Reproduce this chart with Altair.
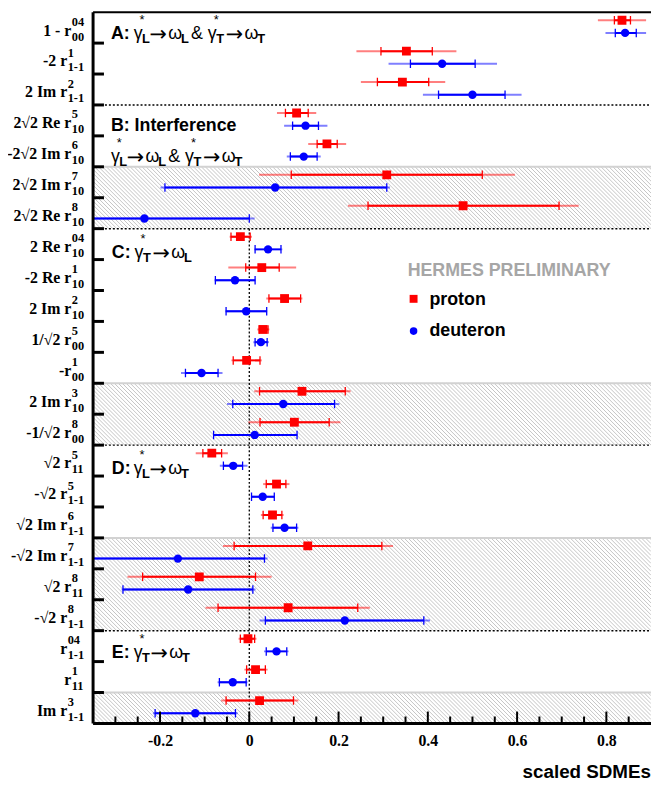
import altair as alt
import pandas as pd

# ------------------------------------------------------------------ data
label_main = ["1 - r", "-2 r", "2 Im r", "2√2 Re r", "-2√2 Im r", "2√2 Im r", "2√2 Re r",
              "2 Re r", "-2 Re r", "2 Im r", "1/√2 r", "-r", "2 Im r", "-1/√2 r",
              "√2 r", "-√2 r", "√2 Im r", "-√2 Im r", "√2 r", "-√2 r",
              "r", "r", "Im r"]
label_sup = ["04", "1", "2", "5", "6", "7", "8", "04", "1", "2", "5", "1", "3", "8",
             "5", "5", "6", "7", "8", "8", "04", "1", "3"]
label_sub = ["00", "1-1", "1-1", "10", "10", "10", "10", "10", "10", "10", "00", "00", "10", "00",
             "11", "1-1", "1-1", "1-1", "11", "1-1", "1-1", "11", "1-1"]

p_val = [0.835, 0.352, 0.343, 0.106, 0.174, 0.308, 0.479, -0.020, 0.028, 0.079, 0.031, -0.006,
         0.118, 0.101, -0.084, 0.061, 0.052, 0.131, -0.112, 0.087, -0.003, 0.014, 0.023]
p_stat_lo = [0.818, 0.295, 0.287, 0.081, 0.152, 0.094, 0.266, -0.041, -0.008, 0.044, 0.022, -0.036,
             0.023, 0.024, -0.104, 0.038, 0.031, -0.034, -0.239, -0.070, -0.020, -0.006, -0.052]
p_stat_hi = [0.854, 0.410, 0.402, 0.132, 0.197, 0.522, 0.694, 0.002, 0.067, 0.115, 0.042, 0.024,
             0.215, 0.179, -0.062, 0.082, 0.073, 0.297, 0.014, 0.243, 0.012, 0.036, 0.099]
p_tot_lo = [0.781, 0.240, 0.250, 0.062, 0.132, 0.022, 0.221, -0.044, -0.047, 0.038, 0.018, -0.040,
            0.011, -0.002, -0.120, 0.031, 0.026, -0.059, -0.273, -0.098, -0.024, -0.011, -0.063]
p_tot_hi = [0.889, 0.464, 0.439, 0.150, 0.217, 0.595, 0.738, 0.006, 0.105, 0.119, 0.045, 0.028,
            0.227, 0.204, -0.048, 0.090, 0.077, 0.322, 0.050, 0.270, 0.016, 0.041, 0.110]

d_val = [0.842, 0.432, 0.500, 0.126, 0.122, 0.058, -0.235, 0.042, -0.032, -0.007, 0.026, -0.107,
         0.076, 0.012, -0.036, 0.030, 0.079, -0.160, -0.137, 0.214, 0.061, -0.037, -0.121]
d_stat_lo = [0.820, 0.361, 0.424, 0.097, 0.092, -0.189, -0.470, 0.013, -0.076, -0.052, 0.013, -0.143,
             -0.037, -0.080, -0.058, 0.005, 0.053, -0.354, -0.283, 0.036, 0.038, -0.067, -0.211]
d_stat_hi = [0.867, 0.506, 0.573, 0.155, 0.152, 0.308, 0.000, 0.071, 0.013, 0.039, 0.040, -0.070,
             0.191, 0.107, -0.015, 0.056, 0.106, 0.034, 0.008, 0.391, 0.084, -0.007, -0.031]
d_tot_lo = [0.798, 0.312, 0.389, 0.078, 0.084, -0.199, -0.480, 0.011, -0.078, -0.054, 0.009, -0.153,
            -0.050, -0.081, -0.066, 0.004, 0.048, -0.360, -0.286, 0.023, 0.033, -0.071, -0.216]
d_tot_hi = [0.889, 0.555, 0.610, 0.175, 0.160, 0.315, 0.012, 0.074, 0.014, 0.040, 0.044, -0.060,
            0.202, 0.108, -0.004, 0.057, 0.110, 0.041, 0.014, 0.405, 0.088, -0.004, -0.026]

shaded_bands = [(5, 7), (12, 14), (17, 20), (22, 23)]
section_breaks = [3, 7, 14, 20]
x_labels = [-0.2, 0, 0.2, 0.4, 0.6, 0.8]
x_minor = [-0.3, -0.25, -0.15, -0.1, -0.05, 0.05, 0.1, 0.15, 0.25, 0.3, 0.35,
           0.45, 0.5, 0.55, 0.65, 0.7, 0.75, 0.85]

# ------------------------------------------------------------------ geometry helpers
W, H = 564, 719
N = len(label_main)
RH = H / N
XMIN, XMAX = -0.35, 0.9
XS = (XMAX - XMIN) / W


def dx(px):
    return XMIN + px * XS


def dy(py):
    return py / RH


def rx(x):  # reference-page x -> data
    return dx(x - 94)


def ry(y):  # reference-page y -> data
    return dy(y * H / 727)


xscale = alt.Scale(domain=[XMIN, XMAX], nice=False, zero=False)
yscale = alt.Scale(domain=[0, N], reverse=True, nice=False, zero=False)
xaxis = alt.Axis(values=x_labels, ticks=False, domain=False, grid=False,
                 labelFont="Liberation Serif", labelFontWeight="bold", labelFontSize=16,
                 labelColor="black", labelPadding=9, labelFlush=False, labelOverlap=False,
                 labelExpr="datum.value == 0 ? '0' : (datum.value < 0 ? '-' : '') + format(abs(datum.value), '.1f')",
                 title=None)


def X(f):
    return alt.X(f, type="quantitative", scale=xscale, axis=xaxis)


def Y(f):
    return alt.Y(f, type="quantitative", scale=yscale, axis=None)


# ------------------------------------------------------------------ tables
rows = []
for i in range(N):
    rows.append(dict(series="proton", y=i + 0.26, val=p_val[i], slo=p_stat_lo[i], shi=p_stat_hi[i],
                     tlo=p_tot_lo[i], thi=p_tot_hi[i]))
    rows.append(dict(series="deuteron", y=i + 0.67, val=d_val[i], slo=d_stat_lo[i], shi=d_stat_hi[i],
                     tlo=d_tot_lo[i], thi=d_tot_hi[i]))
pts = pd.DataFrame(rows)
pts["ya"] = pts["y"] - 4.3 / RH
pts["yb"] = pts["y"] + 4.3 / RH

color = alt.Color("series:N", scale=alt.Scale(domain=["proton", "deuteron"], range=["#ff0000", "#0000ff"]),
                  legend=None)

# hatch lines inside shaded bands
hatch = []
step = 4.0
for (y0, y1) in shaded_bands:
    h = (y1 - y0) * RH
    c = -h
    while c < W:
        v0 = max(0.0, -c)
        v1 = min(h, W - c)
        if v1 > v0:
            hatch.append(dict(x=dx(c + v0), y=y0 + dy(v0), x2=dx(c + v1), y2=y0 + dy(v1)))
        c += step
hatch_df = pd.DataFrame(hatch)
band_df = pd.DataFrame(dict(y=[b[0] for b in shaded_bands], xa=XMIN, xb=XMAX))

sep_df = pd.DataFrame(dict(y=section_breaks, xa=XMIN, xb=XMAX))
vdot_df = pd.DataFrame(dict(x=[0.0], y=[7], y2=[N]))

# frame and ticks
seg = []
seg.append(dict(x=XMIN, x2=XMIN, y=0, y2=N, w=3))
seg.append(dict(x=XMIN, x2=XMAX, y=N, y2=N, w=3))
seg.append(dict(x=XMIN, x2=XMAX, y=0, y2=0, w=2))
for b in range(1, N):
    seg.append(dict(x=XMIN, x2=dx(11), y=b, y2=b, w=3))
for v in x_labels:
    seg.append(dict(x=v, x2=v, y=N, y2=N - dy(12), w=2))
for v in x_minor:
    seg.append(dict(x=v, x2=v, y=N, y2=N - dy(7), w=2))
seg_df = pd.DataFrame(seg)

# row labels
GAP = 9
MAIN_FS, SUB_FS = 16, 12.5


def wsub(s):
    return sum(0.333 if ch == "-" else 0.5 for ch in s) * SUB_FS


main_rows, ss_rows = [], []
for i in range(N):
    c = (i + 0.5) * RH
    w = max(wsub(label_sup[i]), wsub(label_sub[i]))
    xs = -(GAP + w)
    main_rows.append(dict(x=dx(xs - 0.5), y=dy(c + 8), t=label_main[i]))
    ss_rows.append(dict(x=dx(xs), y=dy(c - 2), t=label_sup[i]))
    ss_rows.append(dict(x=dx(xs), y=dy(c + 13), t=label_sub[i]))

# section annotations (reference-page coordinates)
bold_txt, greek_txt, arrow_txt, sub_txt, star_txt = [], [], [], [], []


def expr(g0, base, s1, s2, arrow_dx):
    greek_txt.append(("γ", g0, base))
    star_txt.append(("*", g0 + 6, base - 15))
    sub_txt.append((s1, g0 + 8.5, base + 4))
    arrow_txt.append(("→", g0 + arrow_dx, base + 2))
    greek_txt.append(("ω", g0 + arrow_dx + 19, base))
    sub_txt.append((s2, g0 + arrow_dx + 32, base + 4))


bold_txt.append(("A:", 112, 27))
expr(135, 27, "L", "L", 16)
greek_txt.append(("&", 193, 27))
expr(210, 27, "T", "T", 18)
bold_txt.append(("B: Interference", 112, 121))
expr(112, 153, "L", "L", 16)
greek_txt.append(("&", 170, 153))
expr(187, 153, "T", "T", 18)
bold_txt.append(("C:", 113, 251))
expr(136, 251, "T", "L", 18)
bold_txt.append(("D:", 113, 472))
expr(135, 472, "L", "T", 16)
bold_txt.append(("E:", 113, 660))
expr(135, 660, "T", "T", 17)
bold_txt.append(("proton", 434, 299))
bold_txt.append(("deuteron", 434, 331))


def tdf(lst):
    return pd.DataFrame([dict(t=t, x=rx(x), y=ry(y)) for (t, x, y) in lst])


leg_pts = pd.DataFrame(dict(series=["proton", "deuteron"], x=[rx(418), rx(418)], y=[ry(293), ry(326)]))
hermes_df = tdf([("HERMES PRELIMINARY", 412, 270)])
title_df = pd.DataFrame(dict(t=["scaled SDMEs"], x=[XMAX], y=[dy(H + 55)]))


def text_layer(df, **kw):
    return alt.Chart(df).mark_text(baseline="alphabetic", **kw).encode(x=X("x"), y=Y("y"), text="t:N")


# ------------------------------------------------------------------ layers
layers = [
    alt.Chart(hatch_df).mark_rule(color="#bdbdbd", strokeWidth=0.9).encode(
        x=X("x"), y=Y("y"), x2="x2", y2="y2"),
    alt.Chart(band_df).mark_rule(color="#d2d2d2", strokeWidth=2).encode(x=X("xa"), x2="xb", y=Y("y")),
    alt.Chart(sep_df).mark_rule(color="black", strokeWidth=1.5, strokeDash=[2, 2]).encode(
        x=X("xa"), x2="xb", y=Y("y")),
    alt.Chart(vdot_df).mark_rule(color="black", strokeWidth=1.3, strokeDash=[2, 2]).encode(
        x=X("x"), y=Y("y"), y2="y2"),
    alt.Chart(pts).mark_rule(strokeWidth=2, opacity=0.5, clip=True).encode(
        x=X("tlo"), x2="thi", y=Y("y"), color=color),
    alt.Chart(pts).mark_rule(strokeWidth=2, clip=True).encode(
        x=X("slo"), x2="shi", y=Y("y"), color=color),
    alt.Chart(pts).mark_rule(strokeWidth=1.3, clip=True).encode(
        x=X("slo"), y=Y("ya"), y2="yb", color=color),
    alt.Chart(pts).mark_rule(strokeWidth=1.3, clip=True).encode(
        x=X("shi"), y=Y("ya"), y2="yb", color=color),
    alt.Chart(pts).transform_filter(alt.datum.series == "proton").mark_square(
        size=80, opacity=1, clip=True).encode(x=X("val"), y=Y("y"), color=color),
    alt.Chart(pts).transform_filter(alt.datum.series == "deuteron").mark_circle(
        size=72, opacity=1, clip=True).encode(x=X("val"), y=Y("y"), color=color),
    alt.Chart(seg_df).mark_rule(color="black").encode(
        x=X("x"), x2="x2", y=Y("y"), y2="y2", size=alt.Size("w:Q", scale=None, legend=None)),
    text_layer(pd.DataFrame(main_rows), align="right", font="Liberation Serif", fontWeight="bold",
               fontSize=MAIN_FS, color="black"),
    text_layer(pd.DataFrame(ss_rows), align="left", font="Liberation Serif", fontWeight="bold",
               fontSize=SUB_FS, color="black"),
    text_layer(tdf(bold_txt), align="left", font="Liberation Sans", fontWeight="bold",
               fontSize=18, color="black"),
    text_layer(tdf(greek_txt), align="left", font="Liberation Sans", fontSize=18, color="black"),
    text_layer(tdf(arrow_txt), align="left", font="DejaVu Sans", fontSize=21, color="black"),
    text_layer(tdf(sub_txt), align="left", font="Liberation Sans", fontWeight="bold",
               fontSize=13, color="black"),
    text_layer(tdf(star_txt), align="left", font="Liberation Sans", fontSize=13, color="black"),
    text_layer(hermes_df, align="left", font="Liberation Sans", fontWeight="bold",
               fontSize=18, color="#a6a6a6"),
    alt.Chart(leg_pts).transform_filter(alt.datum.series == "proton").mark_square(
        size=64, opacity=1).encode(x=X("x"), y=Y("y"), color=color),
    alt.Chart(leg_pts).transform_filter(alt.datum.series == "deuteron").mark_circle(
        size=58, opacity=1).encode(x=X("x"), y=Y("y"), color=color),
    text_layer(title_df, align="right", font="Liberation Sans", fontWeight="bold",
               fontSize=19, color="black"),
]

chart = alt.layer(*layers).properties(
    width=W, height=H,
    autosize=alt.AutoSizeParams(type="none"),
    padding={"left": 86, "top": 0, "right": 0, "bottom": 57},
    background="white",
).configure_view(stroke=None)

chart.save("out.html", embed_options={"renderer": "svg", "actions": False})
